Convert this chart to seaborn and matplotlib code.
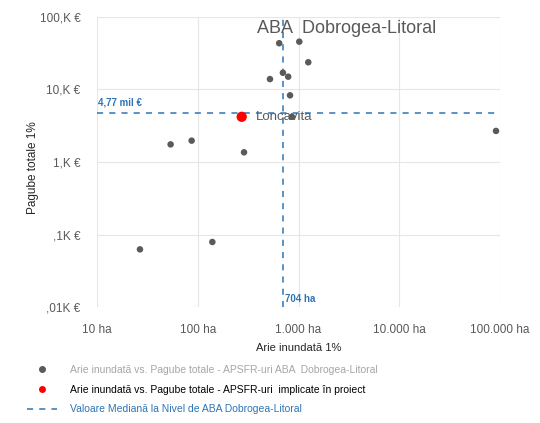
import pandas as pd
import seaborn as sns
import matplotlib
matplotlib.use('Agg')
import matplotlib.pyplot as plt
from matplotlib.lines import Line2D
from matplotlib.ticker import FixedLocator, NullLocator

# date (arie in ha, pagube in mii EUR)
arie_aba = [26.7, 139.6, 53.8, 87, 288, 521, 643, 1018, 1250, 700, 790, 824, 860, 91200]
pagube_aba = [0.0625, 0.079, 1.75, 1.97, 1.36, 13.9, 43.4, 45.6, 23.7, 17.0, 15.0, 8.3, 4.2, 2.68]

arie_proiect = [273]
pagube_proiect = [4.2]
nume_proiect = ['Loncavita']

mediana_arie = 704
mediana_pagube = 4.77

x_ticks = [10, 100, 1000, 10000, 100000]
x_labels = ['10 ha', '100 ha', '1.000 ha', '10.000 ha', '100.000 ha']
y_ticks = [0.01, 0.1, 1, 10, 100]
y_labels = [',01K €', ',1K €', '1,K €', '10,K €', '100,K €']

gri = '#595959'
albastru = '#2E75B6'

df_aba = pd.DataFrame({'arie': arie_aba, 'pagube': pagube_aba})
df_pr = pd.DataFrame({'arie': arie_proiect, 'pagube': pagube_proiect, 'nume': nume_proiect})

sns.set_style('white')
plt.rcParams['font.family'] = ['Liberation Sans', 'DejaVu Sans']

fig = plt.figure(figsize=(5.4, 4.23), dpi=100)
ax = fig.add_axes([0.1796, 0.274, 0.7464, 0.686])

sns.scatterplot(data=df_aba, x='arie', y='pagube', ax=ax, color='#5a5a5a',
                s=22, edgecolor='none', zorder=3)
sns.scatterplot(data=df_pr, x='arie', y='pagube', ax=ax, color='#FF0000',
                s=55, edgecolor='none', zorder=4)

ax.set_xscale('log')
ax.set_yscale('log')
ax.set_xlim(10, 100000)
ax.set_ylim(0.01, 100)

ax.xaxis.set_major_locator(FixedLocator(x_ticks))
ax.xaxis.set_minor_locator(NullLocator())
ax.set_xticklabels(x_labels)
ax.yaxis.set_major_locator(FixedLocator(y_ticks))
ax.yaxis.set_minor_locator(NullLocator())
ax.set_yticklabels(y_labels)
ax.tick_params(axis='both', labelsize=8.5, colors=gri, length=0)
ax.tick_params(axis='x', pad=12)
ax.tick_params(axis='y', pad=12)

ax.grid(True, color='#E6E6E6', linewidth=0.8)
for s in ax.spines.values():
    s.set_visible(False)

# linii mediane
ax.axhline(mediana_pagube, color=albastru, linestyle=(0, (4, 4)), linewidth=1.1, zorder=2)
ax.axvline(mediana_arie, color=albastru, linestyle=(0, (4, 4)), linewidth=1.1, zorder=2)
ax.text(10.3, mediana_pagube * 1.2, '4,77 mil €', color=albastru, fontsize=7,
        fontweight='bold', va='bottom', ha='left')
ax.text(mediana_arie * 1.05, 0.0112, '704 ha', color=albastru, fontsize=7,
        fontweight='bold', va='bottom', ha='left')

for _, r in df_pr.iterrows():
    ax.text(r['arie'] * 1.38, r['pagube'], r['nume'], color=gri, fontsize=9.5,
            va='center', ha='left', zorder=5)

ax.text(3020, 70, 'ABA  Dobrogea-Litoral', color=gri, fontsize=13,
        va='center', ha='center')

ax.set_xlabel('Arie inundată 1%', fontsize=8, color='#262626')
ax.xaxis.set_label_coords(0.5, -0.125)
ax.set_ylabel('Pagube totale 1%', fontsize=8.5, color='#262626')
ax.yaxis.set_label_coords(-0.145, 0.48)

handles = [
    Line2D([], [], color='#5a5a5a', marker='o', linestyle='none', markersize=4),
    Line2D([], [], color='#FF0000', marker='o', linestyle='none', markersize=4),
    Line2D([], [], color=albastru, linestyle=(0, (4, 4)), linewidth=1.1),
]
labels = [
    'Arie inundată vs. Pagube totale - APSFR-uri ABA  Dobrogea-Litoral',
    'Arie inundată vs. Pagube totale - APSFR-uri  implicate în proiect',
    'Valoare Mediană la Nivel de ABA Dobrogea-Litoral',
]
leg = fig.legend(handles, labels, loc='upper left', bbox_to_anchor=(0.05, 0.138),
                 frameon=False, fontsize=7.5, handlelength=2.9, handletextpad=1.2,
                 labelspacing=0.95, borderaxespad=0, borderpad=0)
for t, c in zip(leg.get_texts(), ['#A6A6A6', '#000000', albastru]):
    t.set_color(c)

fig.savefig('out.png', dpi=100)
